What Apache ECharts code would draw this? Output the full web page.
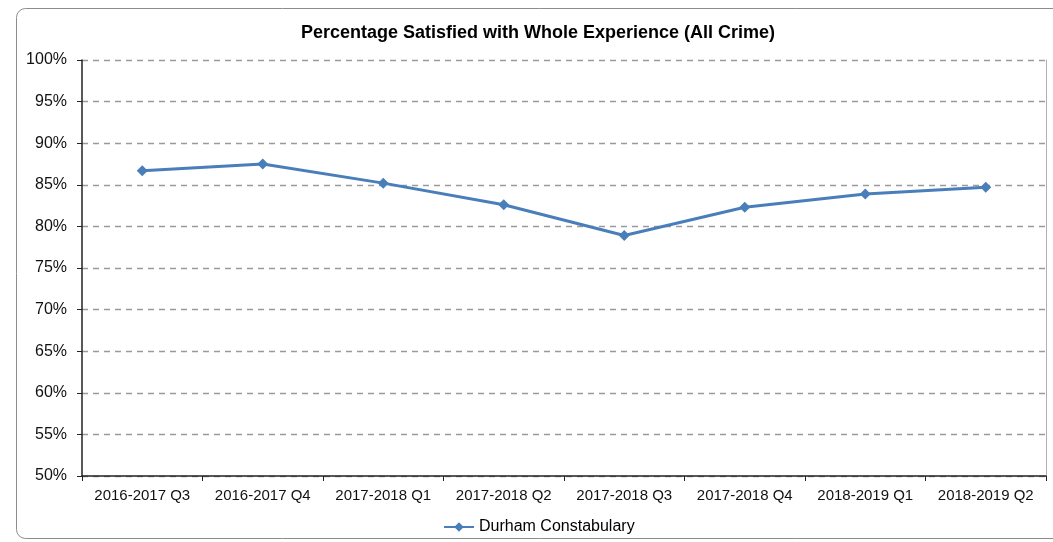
<!DOCTYPE html>
<html>
<head>
<meta charset="utf-8">
<script src="https://cdn.jsdelivr.net/npm/echarts@6/dist/echarts.min.js"></script>
<style>
html,body{margin:0;padding:0;background:#fff;}
#c{width:1053px;height:542px;}
</style>
</head>
<body>
<div id="c"></div>
<script>
var categories = ["2016-2017 Q3","2016-2017 Q4","2017-2018 Q1","2017-2018 Q2","2017-2018 Q3","2017-2018 Q4","2018-2019 Q1","2018-2019 Q2"];
var durham = [86.7, 87.5, 85.2, 82.6, 78.9, 82.3, 83.9, 84.7];
var seriesName = "Durham Constabulary";
var titleText = "Percentage Satisfied with Whole Experience (All Crime)";

var chart = echarts.init(document.getElementById('c'));
chart.setOption({
  animation: false,
  textStyle: {fontFamily: 'Liberation Sans, Arial, sans-serif'},
  graphic: [{
    type: 'rect', shape: {x: 16.5, y: 8.5, width: 1060, height: 530, r: 9},
    style: {fill: 'none', stroke: '#8c8c8c', lineWidth: 1}, z: -1
  }],
  title: {
    text: titleText, left: 533, top: 19, textAlign: 'center',
    textStyle: {fontSize: 18, fontWeight: 'bold', color: '#000', fontFamily: 'Liberation Sans, Arial, sans-serif'}
  },
  legend: {
    data: [seriesName], left: 438, top: 514, itemWidth: 30, itemHeight: 12,
    itemGap: 4,
    textStyle: {fontSize: 16, color: '#000', fontFamily: 'Liberation Sans, Arial, sans-serif'}
  },
  grid: {left: 82, right: 7, top: 60, bottom: 66},
  xAxis: {
    type: 'category', data: categories, boundaryGap: true,
    axisLine: {lineStyle: {color: '#222', width: 1.5}},
    axisTick: {show: true, length: 5, lineStyle: {color: '#222'}},
    axisLabel: {fontSize: 15, color: '#111', margin: 12, interval: 0}
  },
  yAxis: [{
    type: 'value', min: 50, max: 100, interval: 5,
    axisLine: {show: true, lineStyle: {color: '#222', width: 1.5}},
    axisTick: {show: true, length: 5, lineStyle: {color: '#222'}},
    axisLabel: {fontSize: 16, color: '#111', margin: 15, formatter: '{value}%'},
    splitLine: {show: true, lineStyle: {color: '#9a9a9a', type: [6, 5], width: 1.3}}
  }, {
    type: 'value', min: 50, max: 100, interval: 5, position: 'right',
    axisLine: {show: true, lineStyle: {color: '#b0b0b0', width: 1}},
    axisTick: {show: false}, axisLabel: {show: false}, splitLine: {show: false}
  }],
  series: [{
    name: seriesName, type: 'line', data: durham,
    symbol: 'diamond', symbolSize: 11,
    lineStyle: {color: '#4a7ebb', width: 3},
    itemStyle: {color: '#4a7ebb'}
  }]
});
</script>
</body>
</html>
